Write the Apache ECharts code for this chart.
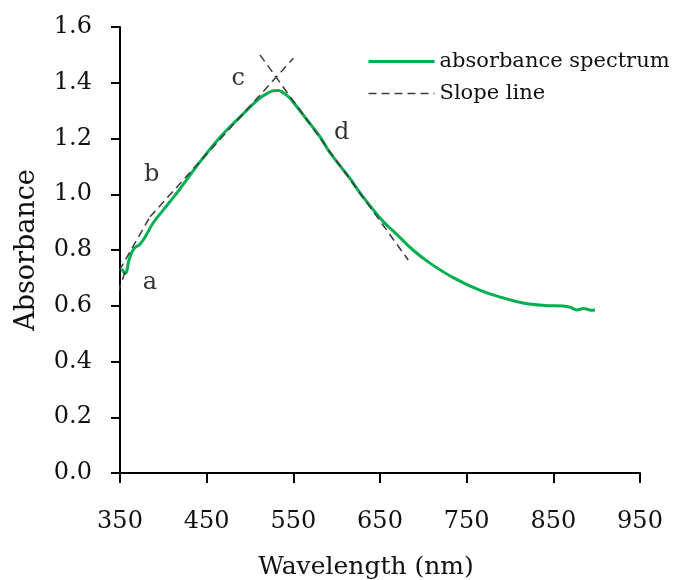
<!DOCTYPE html>
<html>
<head>
<meta charset="utf-8">
<script src="https://cdn.jsdelivr.net/npm/echarts@6/dist/echarts.min.js"></script>
<style>
  html, body { margin: 0; padding: 0; background: #fff; }
  #chart { width: 683px; height: 580px; }
</style>
</head>
<body>
<div id="chart"></div>
<script>
  // absorbance spectrum
  var wavelength = [352, 356, 361, 366, 373, 379, 388, 400, 413, 421, 442, 465, 488, 511, 520, 527, 533, 538, 545, 550,
    565, 581, 592, 614, 630, 654, 669, 688, 708, 735, 765, 790, 815, 840, 861, 870, 877, 885, 894, 898]
  var absorbance = [0.732, 0.716, 0.771, 0.804, 0.821, 0.847, 0.896, 0.944, 0.994, 1.027, 1.115, 1.203, 1.276, 1.344, 1.362, 1.371, 1.372, 1.365, 1.348, 1.330,
    1.270, 1.205, 1.150, 1.062, 0.992, 0.901, 0.857, 0.800, 0.752, 0.700, 0.656, 0.630, 0.610, 0.601, 0.599, 0.594, 0.585, 0.590, 0.584, 0.585]

  // slope lines, each [x0, y0, x1, y1]
  var slopeLines = [
    [338.1, 0.561, 355.8, 0.721],
    [334.2, 0.645, 384.6, 0.919],
    [384.6, 0.919, 550.0, 1.488],
    [511.5, 1.500, 682.6, 0.764]
  ]

  // annotation letters
  var marks = ['a', 'b', 'c', 'd']
  var markPos = [[384.6, 0.682], [386.5, 1.069], [486.5, 1.416], [605.8, 1.219]]

  var xTicks = [350, 450, 550, 650, 750, 850, 950]

  var font = 'DejaVu Serif'
  var spectrum = wavelength.map(function (w, i) { return [w, absorbance[i]] })

  var series = [{
    name: 'absorbance spectrum',
    type: 'line',
    data: spectrum,
    symbol: 'none',
    smooth: 0.4,
    lineStyle: { color: '#00b050', width: 3 },
    itemStyle: { color: '#00b050' },
    z: 2
  }]

  slopeLines.forEach(function (s) {
    series.push({
      name: 'Slope line',
      type: 'line',
      data: [[s[0], s[1]], [s[2], s[3]]],
      symbol: 'none',
      clip: false,
      lineStyle: { color: '#3c3c3c', width: 1.5, type: [8, 5] },
      itemStyle: { color: '#3c3c3c' },
      z: 3
    })
  })

  series.push({
    name: 'marks',
    type: 'scatter',
    symbolSize: 0,
    silent: true,
    data: marks.map(function (m, i) { return { name: m, value: markPos[i] } }),
    label: {
      show: true,
      position: 'inside',
      formatter: '{b}',
      fontFamily: font,
      fontSize: 24,
      color: '#000'
    }
  })

  var myChart = echarts.init(document.getElementById('chart'))
  myChart.setOption({
    animation: false,
    grid: { left: 120, right: 43, top: 27, bottom: 107, outerBoundsMode: 'none' },
    legend: {
      data: ['absorbance spectrum', 'Slope line'],
      orient: 'vertical',
      left: 362,
      top: 46,
      itemWidth: 66,
      itemHeight: 14,
      itemGap: 11,
      itemStyle: { opacity: 0, borderWidth: 0 },
      lineStyle: { width: 'inherit' },
      textStyle: { fontFamily: font, fontSize: 21, color: '#111' }
    },
    xAxis: {
      type: 'value',
      min: xTicks[0],
      max: xTicks[xTicks.length - 1],
      interval: 100,
      name: 'Wavelength (nm)',
      nameLocation: 'middle',
      nameGap: 82,
      nameTextStyle: { fontFamily: font, fontSize: 25, color: '#111', padding: [0, 28, 0, 0] },
      splitLine: { show: false },
      axisLine: { lineStyle: { color: '#000', width: 2 } },
      axisTick: { length: 10, lineStyle: { color: '#000', width: 2 } },
      axisLabel: { margin: 37, fontFamily: font, fontSize: 24, color: '#111' }
    },
    yAxis: {
      type: 'value',
      min: 0,
      max: 1.6,
      interval: 0.2,
      name: 'Absorbance',
      nameLocation: 'middle',
      nameGap: 80,
      nameTextStyle: { fontFamily: font, fontSize: 27, color: '#111' },
      splitLine: { show: false },
      axisLine: { show: true, lineStyle: { color: '#000', width: 2 } },
      axisTick: { show: true, length: 9, lineStyle: { color: '#000', width: 2 } },
      axisLabel: {
        margin: 28,
        fontFamily: font,
        fontSize: 24,
        color: '#111',
        formatter: function (v) { return v.toFixed(1) }
      }
    },
    series: series
  })
</script>
</body>
</html>
